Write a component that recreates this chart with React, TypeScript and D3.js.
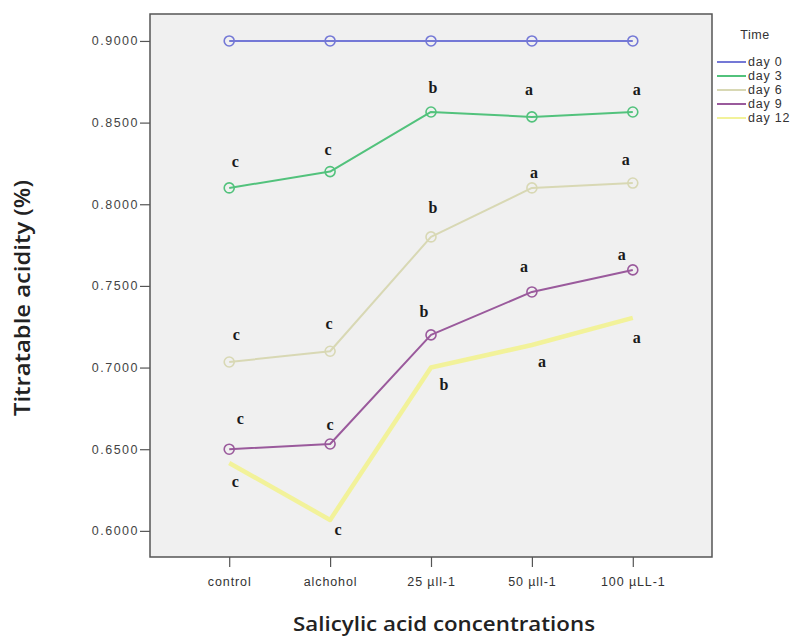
import React, { useEffect, useRef } from "react";
import * as d3 from "d3";

const categories = ["control", "alchohol", "25 µll-1", "50 µll-1", "100 µLL-1"];
const seriesNames = ["day 0", "day 3", "day 6", "day 9", "day 12"];
const seriesColors = ["#7478d6", "#52c27c", "#d8d8b4", "#9a5a9c", "#f2f29a"];

const day0 = [0.9, 0.9, 0.9, 0.9, 0.9];
const day3 = [0.81, 0.82, 0.8565, 0.8535, 0.8565];
const day6 = [0.7034, 0.71, 0.78, 0.81, 0.813];
const day9 = [0.65, 0.6532, 0.72, 0.7463, 0.7598];
const day12 = [0.6416, 0.6067, 0.7, 0.7138, 0.7304];

// significance letters per series (day 0 has none)
const letters3 = ["c", "c", "b", "a", "a"];
const letters6 = ["c", "c", "b", "a", "a"];
const letters9 = ["c", "c", "b", "a", "a"];
const letters12 = ["c", "c", "b", "a", "a"];

const yTicks = [0.6, 0.65, 0.7, 0.75, 0.8, 0.85, 0.9];

export default function App() {
  const ref = useRef<SVGSVGElement | null>(null);

  useEffect(() => {
    const svg = d3.select(ref.current);
    svg.selectAll("*").remove();

    const left = 150, right = 712, top = 14, bottom = 557;

    const x = d3.scalePoint<string>()
      .domain(categories)
      .range([left, right])
      .padding(0.785);

    const y = d3.scaleLinear()
      .domain([0.584, 0.9165])
      .range([bottom, top]);

    svg.append("rect")
      .attr("x", 0).attr("y", 0)
      .attr("width", 797).attr("height", 636)
      .attr("fill", "#ffffff");

    // plot frame
    svg.append("rect")
      .attr("x", left).attr("y", top)
      .attr("width", right - left).attr("height", bottom - top)
      .attr("fill", "#f0f0f0")
      .attr("stroke", "#555")
      .attr("stroke-width", 1.5);

    // y axis
    const yAxis = svg.append("g")
      .attr("transform", `translate(${left},0)`)
      .call(d3.axisLeft(y).tickValues(yTicks).tickFormat(d3.format(".4f")).tickSize(10).tickSizeOuter(0));
    yAxis.select(".domain").remove();
    yAxis.selectAll("line").attr("stroke", "#555").attr("stroke-width", 1.2);
    yAxis.selectAll("text")
      .attr("x", -11)
      .attr("fill", "#444")
      .style("font-family", "Liberation Sans, Arial, sans-serif")
      .style("font-size", "12.5px")
      .style("letter-spacing", "1.5px");

    // x axis
    const xAxis = svg.append("g")
      .attr("transform", `translate(0,${bottom})`)
      .call(d3.axisBottom(x).tickSize(10).tickSizeOuter(0));
    xAxis.select(".domain").remove();
    xAxis.selectAll("line").attr("stroke", "#555").attr("stroke-width", 1.2);
    xAxis.selectAll("text")
      .attr("y", 20)
      .attr("fill", "#333")
      .style("font-family", "Liberation Sans, Arial, sans-serif")
      .style("font-size", "12.5px")
      .style("letter-spacing", "0.9px");

    const series = [day0, day3, day6, day9, day12];
    const widths = [2, 2, 2, 2, 4.5];

    const line = d3.line<number>()
      .x((d, i) => x(categories[i]) as number)
      .y((d) => y(d));

    series.forEach((vals, s) => {
      svg.append("path")
        .datum(vals)
        .attr("d", line)
        .attr("fill", "none")
        .attr("stroke", seriesColors[s])
        .attr("stroke-width", widths[s])
        .attr("stroke-linejoin", "round");
      if (s < 4) {
        svg.selectAll(null)
          .data(vals)
          .enter()
          .append("circle")
          .attr("cx", (d, i) => x(categories[i]) as number)
          .attr("cy", (d) => y(d))
          .attr("r", 5)
          .attr("fill", "none")
          .attr("stroke", seriesColors[s])
          .attr("stroke-width", 1.6);
      }
    });

    // letters: pixel offsets from each point
    const labelSets = [
      { vals: day3, letters: letters3, dx: [6, -2, 2, -3, 4], dy: [-26, -22, -24, -27, -22] },
      { vals: day6, letters: letters6, dx: [7, -1, 2, 2, -7], dy: [-27, -27, -29, -15, -23] },
      { vals: day9, letters: letters9, dx: [11, 0, -7, -8, -11], dy: [-30, -19, -23, -25, -15] },
      { vals: day12, letters: letters12, dx: [6, 8, 13, 10, 4], dy: [19, 10, 17, 17, 20] },
    ];
    labelSets.forEach((set) => {
      svg.selectAll(null)
        .data(set.vals)
        .enter()
        .append("text")
        .attr("x", (d, i) => (x(categories[i]) as number) + set.dx[i])
        .attr("y", (d, i) => y(d) + set.dy[i] + 5)
        .attr("text-anchor", "middle")
        .style("font-family", "Liberation Serif, Times New Roman, serif")
        .style("font-weight", "bold")
        .style("font-size", "16px")
        .attr("fill", "#1a1a1a")
        .text((d, i) => set.letters[i]);
    });

    // legend
    svg.append("text")
      .attr("x", 755).attr("y", 39)
      .attr("text-anchor", "middle")
      .attr("fill", "#333")
      .style("font-family", "Liberation Sans, Arial, sans-serif")
      .style("font-size", "12.5px")
      .style("letter-spacing", "0.6px")
      .text("Time");
    seriesNames.forEach((name, i) => {
      const ly = 62 + i * 14;
      svg.append("line")
        .attr("x1", 717).attr("x2", 746)
        .attr("y1", ly).attr("y2", ly)
        .attr("stroke", seriesColors[i])
        .attr("stroke-width", 2);
      svg.append("text")
        .attr("x", 748).attr("y", ly + 4)
        .attr("fill", "#333")
        .style("font-family", "Liberation Sans, Arial, sans-serif")
        .style("font-size", "12.5px")
        .style("letter-spacing", "0.8px")
        .text(name);
    });

    // axis titles
    svg.append("text")
      .attr("transform", "rotate(-90)")
      .attr("x", -298)
      .attr("y", 30)
      .attr("text-anchor", "middle")
      .attr("fill", "#222")
      .attr("textLength", 236)
      .attr("lengthAdjust", "spacingAndGlyphs")
      .style("font-family", "Open Sans, sans-serif")
      .style("font-weight", "600")
      .style("font-size", "21px")
      .text("Titratable acidity (%)");

    svg.append("text")
      .attr("x", 444)
      .attr("y", 631)
      .attr("text-anchor", "middle")
      .attr("fill", "#222")
      .attr("textLength", 302)
      .attr("lengthAdjust", "spacingAndGlyphs")
      .style("font-family", "Open Sans, sans-serif")
      .style("font-weight", "600")
      .style("font-size", "20px")
      .text("Salicylic acid concentrations");
  }, []);

  return (
    <div style={{ position: "absolute", left: 0, top: 0 }}>
      <svg ref={ref} width={797} height={636} style={{ display: "block" }} />
    </div>
  );
}
